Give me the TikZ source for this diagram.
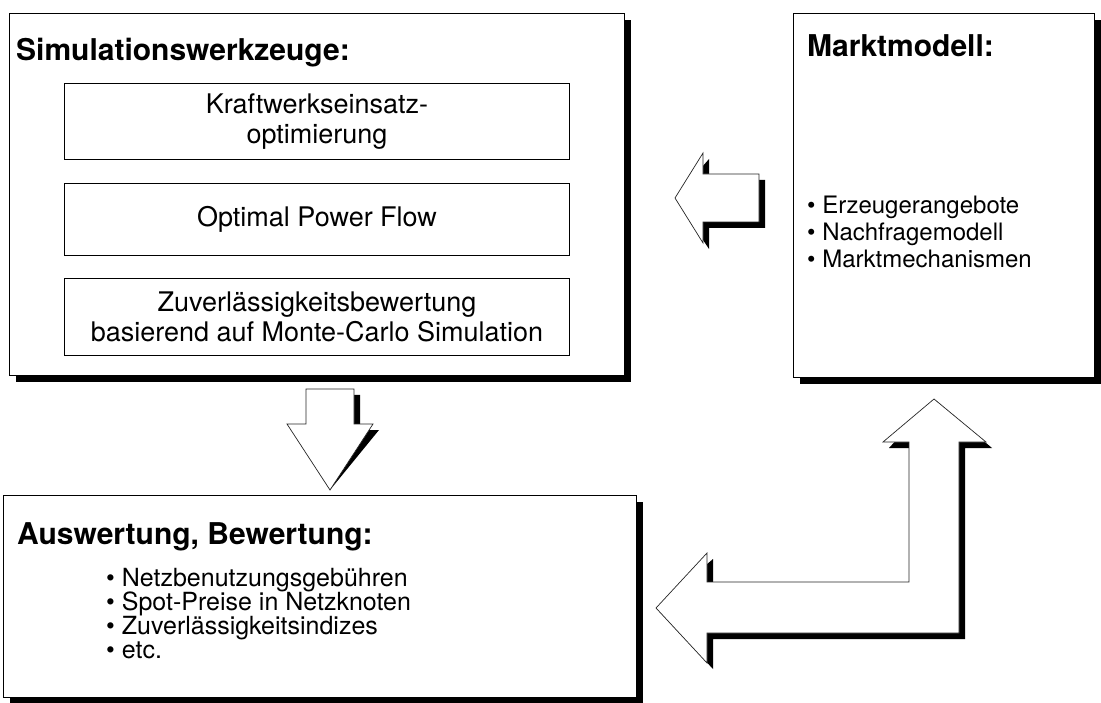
\documentclass[tikz,border=0pt]{standalone}
\usepackage{fontspec}
\setmainfont{TeX Gyre Heros}
\usetikzlibrary{shadows}
\begin{document}
\begin{tikzpicture}[x=1pt,y=-1pt,
  panel/.style={draw=black, line width=1.1pt, fill=white, inner sep=0pt,
    general shadow={fill=black, shadow xshift=6pt, shadow yshift=-6pt}},
  inbox/.style={draw=black, line width=1pt, fill=white, align=center, inner sep=0pt,
    font=\fontsize{27}{30}\selectfont},
  heading/.style={font=\bfseries\fontsize{30}{34}\selectfont, inner sep=0pt, anchor=base west},
  item/.style={font=\fontsize{24}{27}\selectfont, inner sep=0pt, anchor=base west},
  blockarrow/.style={draw=black!85, line width=0.7pt, fill=white, line join=miter},
  arrowshade/.style={fill=black, shift={(6,6)}}
]
\useasboundingbox (0,0) rectangle (1101,703);

% ---- Simulation tools ----
\node[panel, anchor=north west, minimum width=615, minimum height=362] (sim) at (9,13) {};
\node[heading] (simtitle) at (16,61) {Simulationswerkzeuge:};
\node[inbox, anchor=north west, minimum width=505, minimum height=76] (kw) at (64,83)
  {Kraftwerkseinsatz-\\optimierung};
\node[inbox, anchor=north west, minimum width=505, minimum height=72] (opf) at (64,183)
  {Optimal Power Flow};
\node[inbox, anchor=north west, minimum width=505, minimum height=77] (mc) at (64,278)
  {Zuverlässigkeitsbewertung\\basierend auf Monte-Carlo Simulation};

% ---- Market model ----
\node[panel, anchor=north west, minimum width=301, minimum height=364] (mkt) at (793,13) {};
\node[heading] (mkttitle) at (807,57) {Marktmodell:};
\node[item] (m1) at (807,214) {\textbullet\ Erzeugerangebote};
\node[item] (m2) at (807,241) {\textbullet\ Nachfragemodell};
\node[item] (m3) at (807,268) {\textbullet\ Marktmechanismen};

% ---- Evaluation ----
\node[panel, anchor=north west, minimum width=633, minimum height=202] (ausw) at (3,495) {};
\node[heading] (auswtitle) at (17,544) {Auswertung, Bewertung:};
\node[item, font=\fontsize{25}{28}\selectfont] (e1) at (106,586) {\textbullet\ Netzbenutzungsgebühren};
\node[item, font=\fontsize{25}{28}\selectfont] (e2) at (106,610) {\textbullet\ Spot-Preise in Netzknoten};
\node[item, font=\fontsize{25}{28}\selectfont] (e3) at (106,634) {\textbullet\ Zuverlässigkeitsindizes};
\node[item, font=\fontsize{25}{28}\selectfont] (e4) at (106,658) {\textbullet\ etc.};

% ---- block arrows ----
% market model -> simulation tools
\coordinate (a1) at (675,198);
\def\arrowA{(a1) -- (703,153) -- (703,174) -- (759,174) -- (759,222) -- (703,222) -- (703,243) -- cycle}
\fill[arrowshade] \arrowA;
\draw[blockarrow] \arrowA;

% simulation tools -> evaluation
\coordinate (a2) at (330,490);
\def\arrowB{(306,389) -- (354,389) -- (354,424) -- (373,424) -- (a2) -- (287,424) -- (306,424) -- cycle}
\fill[arrowshade] \arrowB;
\draw[blockarrow] \arrowB;

% evaluation <-> market model
\coordinate (a3) at (656,608);
\coordinate (a4) at (934,399);
\def\arrowC{(a3) -- (707,553) -- (707,582) -- (909,582) -- (909,442) -- (883,442) -- (a4)
  -- (986,442) -- (959,442) -- (959,633) -- (707,633) -- (707,663) -- cycle}
\fill[arrowshade] \arrowC;
\draw[blockarrow] \arrowC;
\end{tikzpicture}
\end{document}
